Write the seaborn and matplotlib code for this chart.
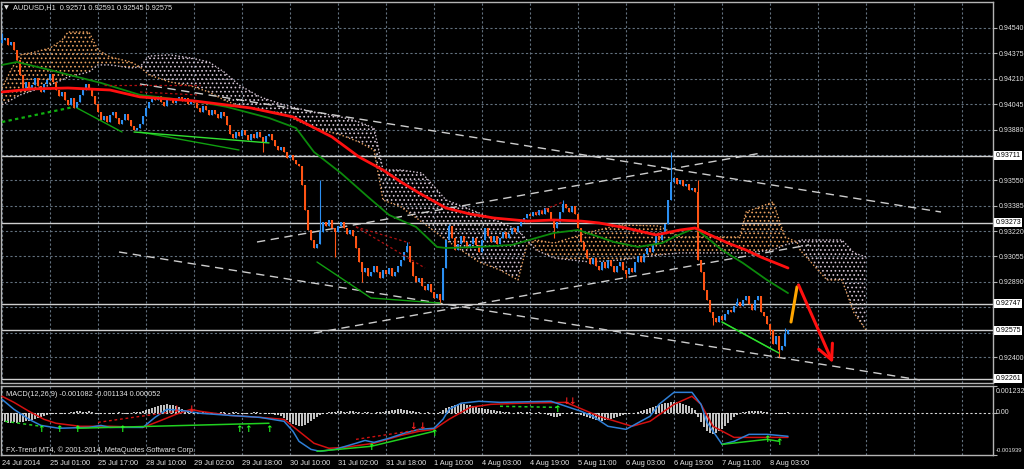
import numpy as np
import matplotlib
matplotlib.use('Agg')
import matplotlib.pyplot as plt
from matplotlib import font_manager
import seaborn as sns

# AUDUSD H1, one bar per hour from 24 Jul 2014 09:00 to 8 Aug 2014 09:00
closes = [
    0.94462, 0.94475, 0.94430, 0.94449, 0.94397, 0.94332, 0.94235, 0.94150, 0.94189, 0.94137,
    0.94170, 0.94215, 0.94163, 0.94124, 0.94176, 0.94202, 0.94241, 0.94189, 0.94137, 0.94098,
    0.94124, 0.94072, 0.94040, 0.94085, 0.94020, 0.94059, 0.94105, 0.94137, 0.94176, 0.94150,
    0.94098, 0.94046, 0.93994, 0.93942, 0.93968, 0.93929, 0.93975, 0.93994, 0.93955, 0.93916,
    0.93942, 0.93981, 0.93942, 0.93903, 0.93877, 0.93890, 0.93916, 0.93968, 0.94020, 0.94059,
    0.94085, 0.94072, 0.94098, 0.94059, 0.94033, 0.94072, 0.94085, 0.94053, 0.94072, 0.94092,
    0.94066, 0.94085, 0.94046, 0.94072, 0.94053, 0.94020, 0.93994, 0.94033, 0.94007, 0.93975,
    0.94007, 0.93981, 0.93955, 0.93994, 0.93968, 0.93910, 0.93851, 0.93825, 0.93864, 0.93838,
    0.93877, 0.93845, 0.93812, 0.93851, 0.93825, 0.93864, 0.93832, 0.93799, 0.93838, 0.93851,
    0.93812, 0.93773, 0.93747, 0.93767, 0.93734, 0.93695, 0.93715, 0.93682, 0.93656, 0.93643,
    0.93520, 0.93357, 0.93227, 0.93162, 0.93110, 0.93136, 0.93214, 0.93279, 0.93253, 0.93292,
    0.93240, 0.93214, 0.93253, 0.93279, 0.93240, 0.93201, 0.93227, 0.93188, 0.93110, 0.93019,
    0.92954, 0.92980, 0.92928, 0.92954, 0.92993, 0.92954, 0.92915, 0.92967, 0.92941, 0.92980,
    0.92928, 0.92954, 0.92993, 0.93032, 0.93084, 0.93123, 0.93019, 0.92928, 0.92889, 0.92915,
    0.92863, 0.92837, 0.92876, 0.92824, 0.92785, 0.92811, 0.92772, 0.92980, 0.93162, 0.93253,
    0.93175, 0.93097, 0.93136, 0.93188, 0.93149, 0.93110, 0.93136, 0.93175, 0.93130, 0.93084,
    0.93162, 0.93240, 0.93188, 0.93149, 0.93188, 0.93136, 0.93175, 0.93214, 0.93175, 0.93201,
    0.93240, 0.93214, 0.93253, 0.93279, 0.93305, 0.93331, 0.93318, 0.93344, 0.93325, 0.93357,
    0.93331, 0.93370, 0.93344, 0.93292, 0.93240, 0.93279, 0.93344, 0.93396, 0.93370, 0.93344,
    0.93383, 0.93331, 0.93240, 0.93149, 0.93097, 0.93045, 0.93006, 0.93045, 0.92993, 0.92967,
    0.93019, 0.92980, 0.93032, 0.92993, 0.92954, 0.92993, 0.93019, 0.92967, 0.92941, 0.92980,
    0.92954, 0.93019, 0.93058, 0.93019, 0.93071, 0.93110, 0.93084, 0.93136, 0.93188, 0.93162,
    0.93214, 0.93266, 0.93422, 0.93539, 0.93565, 0.93526, 0.93552, 0.93513, 0.93526, 0.93487,
    0.93500, 0.93474, 0.93032, 0.92954, 0.92837, 0.92772, 0.92694, 0.92655, 0.92629, 0.92668,
    0.92642, 0.92681, 0.92707, 0.92694, 0.92733, 0.92759, 0.92733, 0.92772, 0.92798, 0.92746,
    0.92707, 0.92772, 0.92798, 0.92694, 0.92668, 0.92616, 0.92577, 0.92486, 0.92538, 0.92447,
    0.92473, 0.92551, 0.92575,
]
first_open = 0.94440
# bars whose wick reaches past the body
wick_high = {0: 0.94507, 106: 0.93552, 135: 0.93149, 149: 0.93266, 187: 0.93422,
             223: 0.93734, 232: 0.93552, 245: 0.92785, 261: 0.92590}
wick_low = {87: 0.93734, 111: 0.93052, 120: 0.92889, 146: 0.92752, 184: 0.93175,
            208: 0.92915, 237: 0.92610, 256: 0.92545, 259: 0.92402}

# moving averages (bar index, price)
red_ma_idx = [0, 10, 22, 36, 46, 64, 83, 97, 110, 119, 127, 133, 139, 148, 156, 164, 175, 184,
              193, 199, 208, 218, 226, 231, 236, 242, 248, 253, 262]
red_ma = [0.94124, 0.94144, 0.94150, 0.94137, 0.94092, 0.94066, 0.94020, 0.93962, 0.93832,
          0.93702, 0.93617, 0.93539, 0.93468, 0.93370, 0.93331, 0.93305, 0.93285, 0.93292,
          0.93285, 0.93273, 0.93240, 0.93195, 0.93227, 0.93240, 0.93195, 0.93142, 0.93097,
          0.93051, 0.92980]
green_ma_idx = [0, 5, 16, 33, 46, 66, 75, 89, 98, 104, 113, 122, 129, 138, 145, 148, 159, 170,
                178, 184, 192, 199, 204, 212, 220, 224, 231, 240, 247, 255, 262]
green_ma = [0.94300, 0.94319, 0.94267, 0.94183, 0.94105, 0.94059, 0.94027, 0.93955, 0.93890,
            0.93734, 0.93597, 0.93442, 0.93325, 0.93247, 0.93117, 0.93110, 0.93117, 0.93130,
            0.93175, 0.93208, 0.93227, 0.93182, 0.93149, 0.93117, 0.93142, 0.93182, 0.93240,
            0.93097, 0.93012, 0.92902, 0.92817]

# ichimoku cloud spans
cloud_idx = [0, 3, 6, 11, 16, 20, 22, 29, 32, 36, 43, 46, 49, 56, 63, 69, 74, 79, 86, 93,
             98, 104, 113, 119, 124, 127, 133, 140, 148, 159, 166, 172, 175, 178, 184, 196, 206,
             219, 226, 246, 248, 257, 261, 265, 266, 275, 280, 284, 288]
span_a = [0.94150, 0.94267, 0.94365, 0.94384, 0.94410, 0.94462, 0.94514, 0.94514, 0.94397,
          0.94352, 0.94319, 0.94287, 0.94235, 0.94189, 0.94163, 0.94124, 0.94072, 0.94033,
          0.94007, 0.93987, 0.93942, 0.93890, 0.93845, 0.93799, 0.93747, 0.93422, 0.93377,
          0.93279, 0.93162, 0.93019, 0.92967, 0.92902, 0.93130, 0.93162, 0.93142, 0.93214,
          0.93260, 0.93253, 0.93182, 0.93182, 0.93344, 0.93409, 0.93182, 0.93149, 0.93097,
          0.92902, 0.92902, 0.92688, 0.92577]
span_b = [0.94040, 0.94072, 0.94105, 0.94137, 0.94170, 0.94202, 0.94222, 0.94254, 0.94300,
          0.94300, 0.94280, 0.94287, 0.94358, 0.94365, 0.94345, 0.94319, 0.94254, 0.94170,
          0.94092, 0.94046, 0.94020, 0.93994, 0.93962, 0.93929, 0.93890, 0.93617, 0.93617,
          0.93597, 0.93422, 0.93338, 0.93279, 0.93227, 0.93162, 0.93097, 0.93045, 0.93019,
          0.93032, 0.93065, 0.93078, 0.93078, 0.93078, 0.93097, 0.93130, 0.93149, 0.93162,
          0.93162, 0.93162, 0.93078, 0.93052]

# drawn objects (bar index, price)
level_lines = [0.93711, 0.93273, 0.92747, 0.92575, 0.92261]
channel_lines = [[(46, 0.94176), (313, 0.93344)],
                 [(39, 0.93084), (306, 0.92252)],
                 [(85, 0.93149), (253, 0.93727)],
                 [(104, 0.92557), (269, 0.93130)]]
green_lines = [[(25, 0.94020), (40, 0.93864)],
               [(46, 0.93864), (79, 0.93747)],
               [(105, 0.93019), (123, 0.92785), (146, 0.92752)],
               [(240, 0.92629), (257, 0.92447)]]
lime_lines = [[(44, 0.93864), (89, 0.93793)],
              [(240, 0.92629), (259, 0.92427)]]
green_dash_lines = [[(0, 0.93929), (24, 0.94027)]]
red_dash_lines = [[(34, 0.94170), (66, 0.94170)],
                  [(46, 0.94124), (65, 0.94105)],
                  [(118, 0.93247), (141, 0.92980)],
                  [(118, 0.93247), (136, 0.93142)],
                  [(178, 0.93338), (187, 0.93409)]]
orange_leg = [(263, 0.92629), (265, 0.92857)]
red_leg = [(265.5, 0.92870), (277, 0.92362)]

# MACD(12,26,9), values x1e-5
macd_hist_e5 = [
    -37, -41, -46, -46, -41, -46, -41, -41, -37, -37, -32, -28, -23, -18, -14, -9, -5,
    -5, -5, 0, -5, -5, 0, 5, 5, 9, 9, 5, 5, 9, 5, 0, -5, -5, 0, 0, -5, -5, 0, 5, 0, -5, -5, 0, 5, 5, 5,
    9, 14, 18, 23, 28, 32, 37, 37, 41, 37, 37, 32, 28, 18, 14, 9,
    5, 5, 5, 0, 5, 5, 0, -5, -5, 0, 5, 5, 0, 0, 5, 5, 0, -5, -5, 0, 0, 5, 5, 0, 0, -5, -5, -5, -9, -9, -14,
    -23, -32, -41, -51, -55, -60, -60, -55, -46, -37, -28, -18, -9,
    -5, 0, 5, 5, 5, 9, 9, 5, 5, 9, 9, 5, 5, 0, 5, 5, 0, 0, 5, 5,
    5, 9, 9, 14, 14, 18, 18, 14, 14, 9, 9, 5, 5, 0, 0, 5, 0, -5, 0, 5,
    14, 23, 28, 32, 37, 41, 41, 41, 37, 37, 32, 28, 23, 23, 18, 18, 14, 14, 9, 9,
    5, 5, 5, 0, 0, 5, 5, 0, 5, 5, 0, 0, 5, 0, -5, -9, -14,
    -18, -18, -14, -5, 0, 0, 5, 0,
    -5, -9, -14, -18, -23, -28, -32, -32, -37, -32, -32, -28, -23, -18, -14, -9, -5, -5, 0, 0, 5,
    9, 14, 18, 23, 28, 32, 37, 41, 46, 46, 51, 51, 51, 46, 41, 37, 32, 23, 14,
    -18, -41, -64, -83, -92, -97, -92, -83, -74, -60, -46, -32, -18, -9,
    0, 5, 5, 9, 9, 9, 9, 9, 5, 5, 0, 0, -5, -5, -5, -5, 5,
]
macd_idx = [0, 4, 9, 13, 19, 29, 33, 36, 47, 51, 55, 59, 62, 66, 76, 86, 94, 97, 99, 103,
            106, 111, 118, 121, 124, 129, 134, 139, 144, 147, 149, 153, 159, 166, 183, 188, 193,
            197, 202, 208, 216, 219, 224, 230, 233, 235, 240, 244, 249, 255, 262]
macd_main_e5 = [62, 16, -30, -58, -71, -67, -58, -67, -67, -21, 16, 12, 7, -2, -12, -21, -39,
                -85, -131, -168, -177, -168, -140, -127, -136, -117, -94, -76, -71, -30, 16, 44,
                53, 48, 53, 30, 7, -16, -62, -76, -16, 39, 94, 94, 39, -44, -145, -131, -99, -99,
                -108]
signal_idx = [0, 4, 9, 14, 18, 26, 36, 47, 53, 58, 63, 66, 76, 86, 94, 99, 104, 109, 114, 124,
              133, 139, 144, 149, 156, 163, 173, 188, 199, 210, 216, 224, 230, 233, 237, 244,
              253, 262]
signal_e5 = [76, 48, 7, -30, -48, -62, -62, -67, -35, -7, 16, 7, -12, -21, -30, -85, -140, -163,
             -159, -140, -104, -85, -76, -30, 25, 39, 44, 48, -16, -62, -39, 39, 76, 39, -62,
             -113, -113, -113]
up_arrow_idx = [13, 19, 25, 40, 79, 82, 89, 123, 144, 185, 255, 259]
up_arrow_e5 = [-76, -76, -76, -76, -76, -76, -76, -161, -94, 16, -122, -136]
down_arrow_idx = [58, 63, 137, 140, 188, 190]
down_arrow_e5 = [16, 16, -62, -62, 53, 53]
macd_green_lines = [[(25, -71), (89, -48)],
                    [(105, -177), (123, -154), (144, -85)],
                    [(240, -145), (255, -122), (259, -131)]]
macd_green_dash = [[(1, -39), (13, -62)], [(166, 30), (185, 25)]]
macd_red_dash = [[(32, -44), (58, 7)], [(118, -122), (140, -76)]]

# axis text
time_labels = ['24 Jul 2014', '25 Jul 01:00', '25 Jul 17:00', '28 Jul 10:00', '29 Jul 02:00',
               '29 Jul 18:00', '30 Jul 10:00', '31 Jul 02:00', '31 Jul 18:00', '1 Aug 10:00',
               '4 Aug 03:00', '4 Aug 19:00', '5 Aug 11:00', '6 Aug 03:00', '6 Aug 19:00',
               '7 Aug 11:00', '8 Aug 03:00']
price_grid = [0.94540, 0.94375, 0.94210, 0.94045, 0.93880, 0.93715, 0.93550, 0.93385, 0.93220,
              0.93055, 0.92890, 0.92725, 0.92560, 0.92400]
price_labels = ['0.94540', '0.94375', '0.94210', '0.94045', '0.93880', '', '0.93550', '0.93385',
                '0.93220', '0.93055', '0.92890', '', '', '0.92400']

BULL = '#2b8ff2'
BEAR = '#ff5414'
SANDY = '#e8a060'
THISTLE = '#d4c4d4'
GRID = '#62707e'
FRAME = '#b4b4b4'
TXT = '#e4e4e4'

sns.set_theme(style='dark', rc={'axes.facecolor': 'black', 'figure.facecolor': 'black',
                                'hatch.linewidth': 0.7})
available = {f.name for f in font_manager.fontManager.ttflist}
if 'Liberation Sans Narrow' in available:
    FONT, FS, FS_AX = 'Liberation Sans Narrow', 6.2, 6.0
elif 'Liberation Sans' in available:
    FONT, FS, FS_AX = 'Liberation Sans', 5.3, 5.0
else:
    FONT, FS, FS_AX = 'DejaVu Sans', 4.8, 4.4
plt.rcParams['font.family'] = [FONT, 'DejaVu Sans']


def polyline(ax, pts, scale=1.0, **kw):
    xs = [p[0] for p in pts]
    ys = [p[1] * scale for p in pts]
    ax.plot(xs, ys, **kw)


def style_panel(ax):
    ax.set_facecolor('black')
    for s in ax.spines.values():
        s.set_color(FRAME)
        s.set_linewidth(1.0)
    ax.set_axisbelow(True)
    ax.set_xlim(-0.33, 330.33)
    ax.set_xticks(range(0, 321, 16))


def draw_candles(ax):
    c = np.array(closes)
    o = np.array([first_open] + closes[:-1])
    bars = np.arange(len(c))
    colors = [BULL if cc >= oo else BEAR for oo, cc in zip(o, c)]
    hi = [wick_high.get(i, max(o[i], c[i])) for i in bars]
    lo = [wick_low.get(i, min(o[i], c[i])) for i in bars]
    ax.vlines(bars, lo, hi, colors=colors, lw=0.8, zorder=3)
    body = np.maximum(np.abs(c - o), 0.00002)
    ax.bar(bars, body, bottom=np.minimum(o, c), width=0.7, color=colors, lw=0, zorder=3)


def draw_price_panel(ax):
    style_panel(ax)
    ax.set_ylim(0.922325, 0.94709)
    ax.grid(True, color=GRID, linestyle=(0, (2, 2)), lw=0.8)

    a = np.array(span_a)
    b = np.array(span_b)
    ax.fill_between(cloud_idx, a, b, where=a >= b, interpolate=True, facecolor='none',
                    edgecolor=SANDY, hatch='....', lw=0, zorder=1)
    ax.fill_between(cloud_idx, a, b, where=b > a, interpolate=True, facecolor='none',
                    edgecolor=THISTLE, hatch='....', lw=0, zorder=1)
    ax.plot(cloud_idx, a, color=SANDY, ls=(0, (1, 1.5)), lw=1, zorder=1)
    ax.plot(cloud_idx, b, color=THISTLE, ls=(0, (1, 1.5)), lw=1, zorder=1)

    for p in level_lines:
        ax.axhline(p, color='#cfcfcf', lw=1, zorder=2)
    for pts in channel_lines:
        polyline(ax, pts, color='#cdcdcd', lw=1, dashes=(6, 4), zorder=2)

    draw_candles(ax)

    sns.lineplot(x=green_ma_idx, y=green_ma, ax=ax, color='#0c8a0c', linewidth=1.3, zorder=4)
    sns.lineplot(x=red_ma_idx, y=red_ma, ax=ax, color='#ff1010', linewidth=2.0, zorder=4)

    for pts in green_lines:
        polyline(ax, pts, color='#10a010', lw=1, zorder=5)
    for pts in lime_lines:
        polyline(ax, pts, color='#30e030', lw=1, zorder=5)
    for pts in green_dash_lines:
        polyline(ax, pts, color='#10b010', lw=1.6, dashes=(1.5, 1.5), zorder=5)
    for pts in red_dash_lines:
        polyline(ax, pts, color='#b01010', lw=0.9, dashes=(2, 2), zorder=5)

    polyline(ax, orange_leg, color='#ffa500', lw=2.2, zorder=6)
    ax.annotate('', xy=red_leg[1], xytext=red_leg[0], zorder=6,
                arrowprops=dict(arrowstyle='->,head_length=0.9,head_width=0.45',
                                color='#ff1010', lw=2.2, shrinkA=0, shrinkB=0))

    ax.yaxis.tick_right()
    ax.set_yticks(price_grid)
    ax.set_yticklabels(price_labels)
    ax.tick_params(axis='y', colors=FRAME, labelcolor=TXT, length=3, width=0.8, pad=1.2,
                   labelsize=FS_AX)
    ax.tick_params(axis='x', length=0, labelbottom=False)
    for p in level_lines:
        ax.text(1.0025, p, f'{p:.5f}', transform=ax.get_yaxis_transform(), ha='left',
                va='center', fontsize=FS_AX, color='black', clip_on=False, zorder=10,
                bbox=dict(boxstyle='square,pad=0.15', fc='white', ec='none'))
    ax.set_xlabel('')
    ax.set_ylabel('')


def draw_macd_panel(ax):
    style_panel(ax)
    ax.set_ylim(-0.001939, 0.001232)
    ax.grid(True, axis='x', color=GRID, linestyle=(0, (2, 2)), lw=0.8)
    ax.axhline(0, color='#d8d8d8', lw=0.8, ls=(0, (2, 2)), zorder=1)

    hist = np.array(macd_hist_e5) / 1e5
    bars = np.arange(len(hist))
    ax.vlines(bars, 0, hist, colors='#e8e8e8', lw=1.2, zorder=2)

    sns.lineplot(x=signal_idx, y=np.array(signal_e5) / 1e5, ax=ax, color='#d41010',
                 linewidth=1.1, zorder=3)
    sns.lineplot(x=macd_idx, y=np.array(macd_main_e5) / 1e5, ax=ax, color='#2f7fd6',
                 linewidth=1.1, zorder=3)

    for pts in macd_green_lines:
        polyline(ax, pts, 1e-5, color='#20d020', lw=1.1, zorder=4)
    for pts in macd_green_dash:
        polyline(ax, pts, 1e-5, color='#20d020', lw=1.1, dashes=(2, 2), zorder=4)
    for pts in macd_red_dash:
        polyline(ax, pts, 1e-5, color='#d01010', lw=1.0, dashes=(2, 2), zorder=4)

    for i, v in zip(up_arrow_idx, up_arrow_e5):
        ax.text(i, v / 1e5, '↑', color='#20ff20', fontsize=6.5, fontweight='bold',
                ha='center', va='center', family='DejaVu Sans', zorder=5)
    for i, v in zip(down_arrow_idx, down_arrow_e5):
        ax.text(i, v / 1e5, '↓', color='#ff2020', fontsize=6.5, fontweight='bold',
                ha='center', va='center', family='DejaVu Sans', zorder=5)

    ax.text(0.005, 0.88, 'MACD(12,26,9) -0.001082 -0.001134 0.000052', transform=ax.transAxes,
            color=TXT, fontsize=FS, va='center', ha='left')
    ax.text(0.005, 0.075, 'FX-Trend MT4, © 2001-2014, MetaQuotes Software Corp.',
            transform=ax.transAxes, color=TXT, fontsize=FS, va='center', ha='left')

    ax.yaxis.tick_right()
    ax.set_yticks([0.001232, 0.0, -0.001939])
    ax.set_yticklabels([])
    ax.tick_params(axis='y', colors=FRAME, length=3, width=0.8)
    tr = ax.get_yaxis_transform()
    ax.text(1.003, 0.00112, '0.001232', transform=tr, va='top', ha='left', color=TXT,
            fontsize=FS_AX, clip_on=False)
    ax.text(1.003, 0.0, '0.00', transform=tr, va='center', ha='left', color=TXT,
            fontsize=FS_AX, clip_on=False)
    ax.text(1.003, -0.00186, '-0.001939', transform=tr, va='bottom', ha='left', color=TXT,
            fontsize=FS_AX * 0.84, clip_on=False)

    ax.set_xticklabels(time_labels + [''] * 4, ha='left')
    ax.tick_params(axis='x', colors=FRAME, labelcolor=TXT, length=2, width=0.8, pad=1.5,
                   labelsize=FS)
    ax.set_xlabel('')
    ax.set_ylabel('')


W, H = 1024, 469
fig = plt.figure(figsize=(W / 100, H / 100), dpi=100, facecolor='black')
price_ax = fig.add_axes([1 / W, (H - 383) / H, 992 / W, 381 / H])
macd_ax = fig.add_axes([1 / W, (H - 455) / H, 992 / W, 69 / H])

draw_price_panel(price_ax)
draw_macd_panel(macd_ax)

fig.text(4 / W, 1 - 8 / H, '▼', color=TXT, fontsize=4.5, va='center', ha='left',
         family='DejaVu Sans')
fig.text(13 / W, 1 - 8 / H, 'AUDUSD,H1  0.92571 0.92591 0.92545 0.92575', color=TXT,
         fontsize=FS, va='center', ha='left')

fig.savefig('out.png', dpi=100, facecolor='black')
